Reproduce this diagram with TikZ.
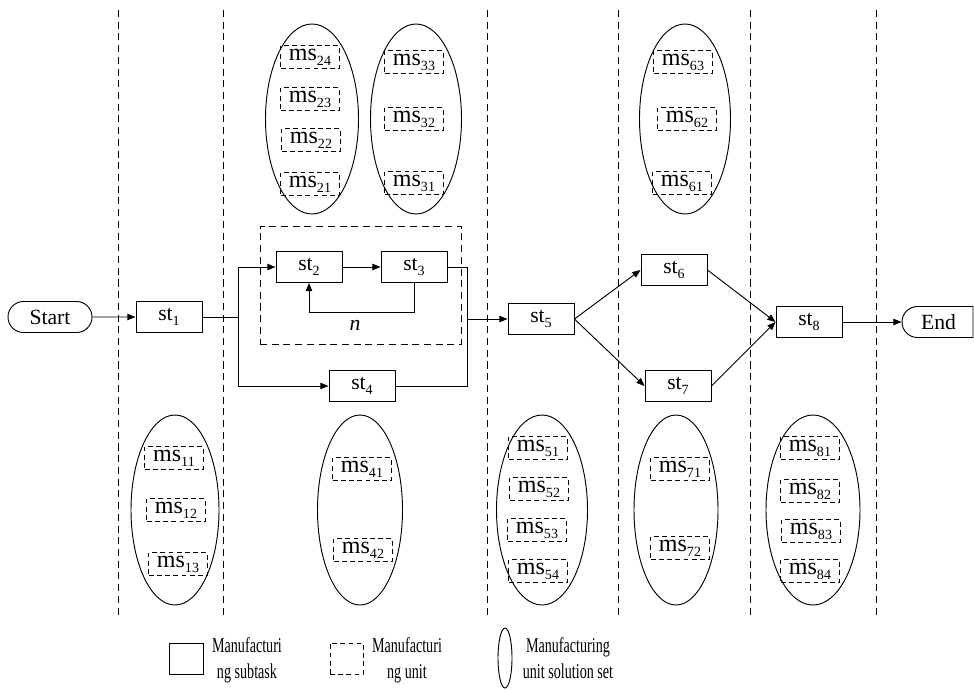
\documentclass[tikz,border=0pt]{standalone}
\usepackage{fontspec}
\usepackage{graphicx}
\setmainfont{Liberation Serif}
\usetikzlibrary{arrows.meta,positioning,shapes.geometric,shapes.misc}
\newcommand{\sbs}[1]{\raisebox{-0.45ex}{\fontsize{12}{12}\selectfont #1}}
\newcommand{\legtxt}[2]{\scalebox{0.67}[1]{\fontsize{18}{22}\selectfont\begin{tabular}{@{}c@{}}#1\\#2\end{tabular}}}

\begin{document}
\begin{tikzpicture}[x=0.03cm,y=-0.03cm,line width=0.8pt,
  st/.style={draw,rectangle,minimum width=1.98cm,minimum height=0.93cm,inner sep=0pt,font=\fontsize{18.5}{22}\selectfont},
  term/.style={draw,rounded rectangle,minimum width=2.52cm,minimum height=0.93cm,inner sep=0pt,font=\fontsize{18.5}{22}\selectfont},
  ms/.style={draw,dash pattern=on 4pt off 3pt,minimum width=1.75cm,minimum height=0.68cm,inner sep=0pt,font=\fontsize{20.5}{22}\selectfont},
  set/.style={draw,ellipse,minimum width=2.7cm,minimum height=5.7cm,inner sep=0pt},
  sep/.style={dash pattern=on 6pt off 4pt},
  arr/.style={-{Triangle[length=7pt,width=5.5pt]}}]
\useasboundingbox (0,0) rectangle (974,689);
% stage separators
\foreach \x in {118,223,487,618,750,876}
  \draw[sep] (\x,10) -- (\x,615);
% solution sets
\node[set,minimum width=2.79cm] (set2) at (312,119) {};
\node[set,minimum width=2.73cm] (set3) at (416,119) {};
\node[set,minimum width=2.73cm] (set6) at (685,119) {};
\node[set,minimum width=2.64cm] (set1) at (175,510) {};
\node[set,minimum width=2.55cm] (set4) at (360,510) {};
\node[set,minimum width=2.73cm] (set5) at (542,510) {};
\node[set,minimum width=2.52cm] (set7) at (676,510) {};
\node[set,minimum width=2.82cm] (set8) at (813,510) {};
% units
\node[ms] (ms24) at (310,57) {ms\sbs{24}};
\node[ms] (ms23) at (310,99) {ms\sbs{23}};
\node[ms] (ms22) at (311,140) {ms\sbs{22}};
\node[ms] (ms21) at (310,184) {ms\sbs{21}};
\node[ms] (ms33) at (414,62) {ms\sbs{33}};
\node[ms] (ms32) at (414,119) {ms\sbs{32}};
\node[ms] (ms31) at (414,183) {ms\sbs{31}};
\node[ms] (ms63) at (683,62) {ms\sbs{63}};
\node[ms] (ms62) at (687,119) {ms\sbs{62}};
\node[ms] (ms61) at (682,183) {ms\sbs{61}};
\node[ms] (ms11) at (174,458) {ms\sbs{11}};
\node[ms] (ms12) at (176,510) {ms\sbs{12}};
\node[ms] (ms13) at (178,564) {ms\sbs{13}};
\node[ms] (ms41) at (362,469) {ms\sbs{41}};
\node[ms] (ms42) at (363,550) {ms\sbs{42}};
\node[ms] (ms51) at (538,448) {ms\sbs{51}};
\node[ms] (ms52) at (539,489) {ms\sbs{52}};
\node[ms] (ms53) at (537,530) {ms\sbs{53}};
\node[ms] (ms54) at (538,571) {ms\sbs{54}};
\node[ms] (ms71) at (680,469) {ms\sbs{71}};
\node[ms] (ms72) at (680,548) {ms\sbs{72}};
\node[ms] (ms81) at (810,448) {ms\sbs{81}};
\node[ms] (ms82) at (810,491) {ms\sbs{82}};
\node[ms] (ms83) at (811,531) {ms\sbs{83}};
\node[ms] (ms84) at (810,571) {ms\sbs{84}};
% subtasks
\node[draw,sep,minimum width=6.03cm,minimum height=3.54cm] (loopbox) at (360.5,285) {};
\node[term] (start) at (50,317) {Start};
\node[st] (st1) at (169,317) {st\sbs{1}};
\node[st] (st2) at (309,267) {st\sbs{2}};
\node[st] (st3) at (414,267) {st\sbs{3}};
\node[st] (st4) at (362,386) {st\sbs{4}};
\node[st] (st5) at (541,319) {st\sbs{5}};
\node[st] (st6) at (674,270) {st\sbs{6}};
\node[st] (st7) at (678,386) {st\sbs{7}};
\node[st] (st8) at (809,322) {st\sbs{8}};
\node[term,rounded rectangle right arc=none,minimum width=2.13cm] (end) at (938.5,322) {End};
\node[font=\fontsize{18.5}{22}\selectfont] (nlab) at (355,325) {\textit{n}};
\coordinate (fork) at (238,317);
\coordinate (loop) at (309,312);
\coordinate (join) at (467,319);
\draw[arr] (start) -- (st1);
\draw (st1) -- (fork);
\draw[arr] (fork) |- (st2);
\draw[arr] (fork) |- (st4);
\draw[arr] (st2) -- (st3);
\draw[arr] (st3.south) |- (loop) -- (st2.south);
\draw (st3) -| (join);
\draw (st4) -| (join);
\draw[arr] (join) -- (st5);
\draw[arr] (st5.east) -- (st6.west);
\draw[arr] (st5.east) -- (st7.west);
\draw[arr] (st6.east) -- (st8.west);
\draw[arr] (st7.east) -- (st8.west);
\draw[arr] (st8) -- (end);
% legend
\node[draw,minimum width=1.02cm,minimum height=0.93cm] (legst) at (186,658.5) {};
\node[draw,dash pattern=on 4pt off 3pt,minimum width=0.99cm,minimum height=0.93cm] (legms) at (346.5,658.5) {};
\node[draw,ellipse,minimum width=0.42cm,minimum height=1.8cm,inner sep=0pt] (legset) at (505,658) {};
\node (legsttxt) at (247,660) {\legtxt{Manufacturi}{ng subtask}};
\node (legmstxt) at (407,660) {\legtxt{Manufacturi}{ng unit}};
\node (legsettxt) at (568,660) {\legtxt{Manufacturing}{unit solution set}};
\end{tikzpicture}
\end{document}
